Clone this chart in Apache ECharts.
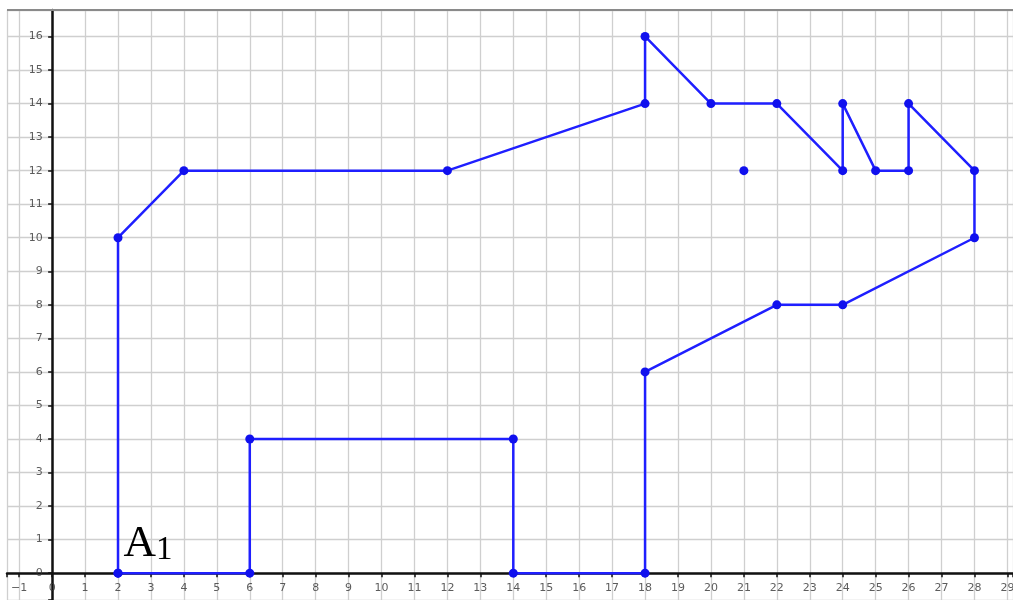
<!DOCTYPE html>
<html>
<head>
<meta charset="utf-8">
<script src="https://cdn.jsdelivr.net/npm/echarts@6/dist/echarts.min.js"></script>
<style>
  html, body { margin: 0; padding: 0; background: #fff; }
  #chart { width: 1013px; height: 600px; }
</style>
</head>
<body>
<div id="chart"></div>
<script>
// 多边形顶点（按连线顺序）
var shapeX = [2, 2, 4, 12, 18, 18, 20, 22, 24, 24, 25, 26, 26, 28, 28, 24, 22, 18, 18, 14, 14, 6, 6, 2];
var shapeY = [0, 10, 12, 12, 14, 16, 14, 14, 12, 14, 12, 12, 14, 12, 10, 8, 8, 6, 0, 0, 4, 4, 0, 0];
// 单独的点
var loneX = [21];
var loneY = [12];
// 点名
var pointName = "A";
var pointSub = "1";
// 刻度标签
var xTicks = [-1, 0, 1, 2, 3, 4, 5, 6, 7, 8, 9, 10, 11, 12, 13, 14, 15, 16, 17, 18, 19, 20, 21, 22, 23, 24, 25, 26, 27, 28, 29];
var yTicks = [0, 1, 2, 3, 4, 5, 6, 7, 8, 9, 10, 11, 12, 13, 14, 15, 16];
// 可视范围
var xRange = [-1.37, 29.17], yRange = [-0.8, 16.79];

var myChart = echarts.init(document.getElementById('chart'));

var shapeData = [];
for (var i = 0; i < shapeX.length; i++) {
	var item = { value: [shapeX[i], shapeY[i]] };
	if (i === 0) {
		item.label = {
			show: true,
			position: [10, -46],
			formatter: '{a|' + pointName + '}{b|' + pointSub + '}',
			rich: {
				a: { fontFamily: 'Liberation Serif', fontSize: 45, color: '#000', lineHeight: 44, verticalAlign: 'bottom' },
				b: { fontFamily: 'Liberation Serif', fontSize: 33, color: '#000', lineHeight: 40, verticalAlign: 'bottom' }
			}
		};
	}
	shapeData.push(item);
}
var loneData = [];
for (var j = 0; j < loneX.length; j++) {
	loneData.push([loneX[j], loneY[j]]);
}
// 刻度标签放在坐标轴上
var xTickData = [], yTickData = [];
for (var k = 0; k < xTicks.length; k++) xTickData.push([xTicks[k], 0]);
for (var m = 0; m < yTicks.length; m++) yTickData.push([0, yTicks[m]]);
function tickText(v) {
	return String(v).replace('-', '\u2212');
}
var tickLabel = { color: '#333', fontFamily: 'DejaVu Sans', fontSize: 11 };

var option = {
	animation: false,
	backgroundColor: '#fff',
	grid: { left: 7, right: 0, top: 10, bottom: 0, containLabel: false, outerBoundsMode: 'none' },
	xAxis: {
		type: 'value', min: xRange[0], max: xRange[1], minInterval: 1, maxInterval: 1, splitNumber: 30,
		axisLine: { onZero: true, lineStyle: { color: '#111', width: 2.5 } },
		axisTick: { show: true, length: 4, lineStyle: { color: '#111', width: 1.5 } },
		axisLabel: { show: false },
		splitLine: { show: true, lineStyle: { color: '#cfcfcf', width: 1.3 } }
	},
	yAxis: {
		type: 'value', min: yRange[0], max: yRange[1], minInterval: 1, maxInterval: 1, splitNumber: 17,
		axisLine: { onZero: true, lineStyle: { color: '#111', width: 2.5 } },
		axisTick: { show: true, length: 4, lineStyle: { color: '#111', width: 1.5 } },
		axisLabel: { show: false },
		splitLine: { show: true, lineStyle: { color: '#cfcfcf', width: 1.3 } }
	},
	series: [{
		type: 'line',
		data: shapeData,
		symbol: 'circle',
		symbolSize: 9,
		itemStyle: { color: '#1010ee' },
		lineStyle: { color: '#1f1fff', width: 2.5 },
		z: 3
	}, {
		type: 'scatter',
		data: loneData,
		symbol: 'circle',
		symbolSize: 9,
		itemStyle: { color: '#1010ee', opacity: 1 },
		z: 3
	}, {
		type: 'scatter',
		data: xTickData,
		silent: true,
		symbolSize: 1,
		itemStyle: { color: 'rgba(0,0,0,0)' },
		label: $label('bottom', 9, function(p) { return tickText(p.value[0]); }),
		z: 5
	}, {
		type: 'scatter',
		data: yTickData,
		silent: true,
		symbolSize: 1,
		itemStyle: { color: 'rgba(0,0,0,0)' },
		label: $label('left', 9, function(p) { return tickText(p.value[1]); }),
		z: 5
	}],
	graphic: [
		{ type: 'line', z: 101, shape: { x1: 7, y1: 10, x2: 1013, y2: 10 }, style: { stroke: '#8a8a8a', lineWidth: 2 } }
	]
};
function $label(pos, dist, fmt) {
	return {
		show: true, position: pos, distance: dist, formatter: fmt,
		color: tickLabel.color, fontFamily: tickLabel.fontFamily, fontSize: tickLabel.fontSize
	};
}
myChart.setOption(option);
</script>
</body>
</html>
